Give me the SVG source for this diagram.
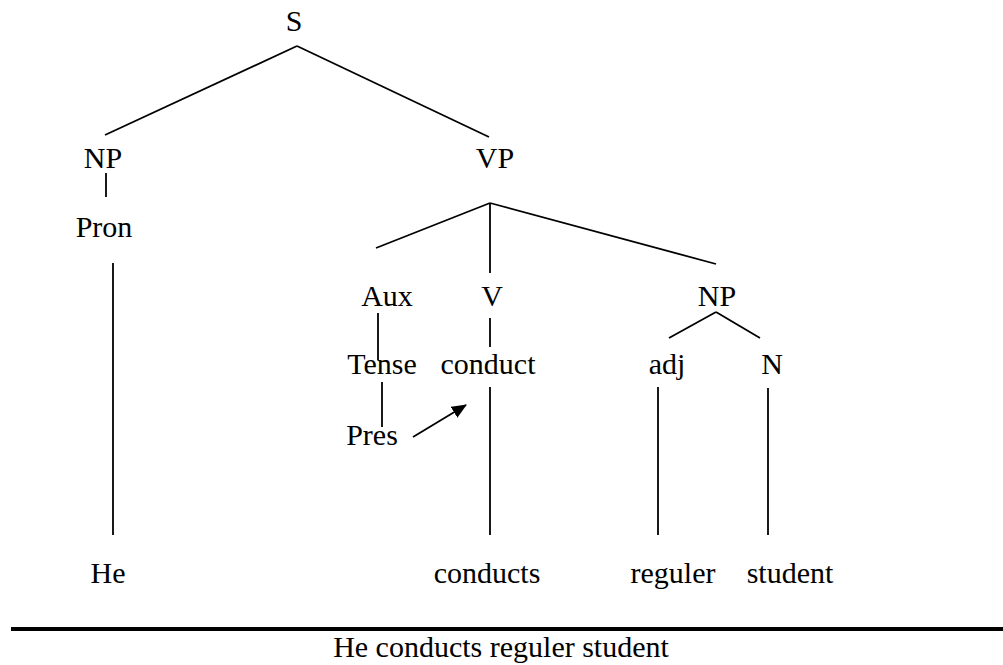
<svg xmlns="http://www.w3.org/2000/svg" width="1003" height="665" viewBox="0 0 1003 665">
  <style>
    text { font-family: "Liberation Serif", "Times New Roman", serif; font-size: 30px; fill: #000; text-anchor: middle; }
    .edge { stroke: #000; stroke-width: 1.8; fill: none; stroke-linecap: butt; }
    .rule { stroke: #000; stroke-width: 4; }
  </style>
  <defs>
    <marker id="arrowhead" markerWidth="15" markerHeight="13" refX="14" refY="6.5" orient="auto" markerUnits="userSpaceOnUse" viewBox="0 0 15 13">
      <path d="M0,0 L15,6.5 L0,13 Z" fill="#000"/>
    </marker>
  </defs>
  <rect width="1003" height="665" fill="#fff"/>

  <!-- tree branches -->
  <g id="connectors">
    <line class="edge" x1="297" y1="46" x2="105" y2="135"/>
    <line class="edge" x1="297" y1="46" x2="489" y2="137"/>
    <line class="edge" x1="106" y1="173" x2="106" y2="197"/>
    <line class="edge" x1="113" y1="263" x2="113" y2="535"/>
    <line class="edge" x1="490" y1="203" x2="376" y2="248"/>
    <line class="edge" x1="490" y1="203" x2="490" y2="273"/>
    <line class="edge" x1="490" y1="203" x2="716" y2="264"/>
    <line class="edge" x1="378" y1="313" x2="378" y2="360"/>
    <line class="edge" x1="490" y1="318" x2="490" y2="347"/>
    <line class="edge" x1="716" y1="312" x2="669" y2="338"/>
    <line class="edge" x1="716" y1="312" x2="760" y2="338"/>
    <line class="edge" x1="382" y1="382" x2="382" y2="427"/>
    <line class="edge" x1="490" y1="387" x2="490" y2="535"/>
    <line class="edge" x1="658" y1="387" x2="658" y2="535"/>
    <line class="edge" x1="768" y1="388" x2="768" y2="535"/>
    <line class="edge" x1="413" y1="437" x2="466" y2="405" marker-end="url(#arrowhead)"/>
  </g>

  <g id="node-S"><text x="294" y="31">S</text></g>
  <g id="node-NP"><text x="103" y="168">NP</text></g>
  <g id="node-VP"><text x="495" y="168">VP</text></g>
  <g id="node-Pron"><text x="104" y="237">Pron</text></g>
  <g id="node-Aux"><text x="387" y="306">Aux</text></g>
  <g id="node-V"><text x="492" y="306">V</text></g>
  <g id="node-NP2"><text x="717" y="306">NP</text></g>
  <g id="node-Tense"><text x="382" y="374">Tense</text></g>
  <g id="node-conduct"><text x="488" y="374">conduct</text></g>
  <g id="node-adj"><text x="667" y="374">adj</text></g>
  <g id="node-N"><text x="772" y="374">N</text></g>
  <g id="node-Pres"><text x="372" y="445">Pres</text></g>
  <g id="node-He"><text x="108" y="583">He</text></g>
  <g id="node-conducts"><text x="487" y="583">conducts</text></g>
  <g id="node-reguler"><text x="673" y="583">reguler</text></g>
  <g id="node-student"><text x="790" y="583">student</text></g>

  <!-- sentence line -->
  <g id="sentence">
    <line class="rule" x1="11" y1="629" x2="1003" y2="629"/>
    <text x="501" y="657">He conducts reguler student</text>
  </g>
</svg>
